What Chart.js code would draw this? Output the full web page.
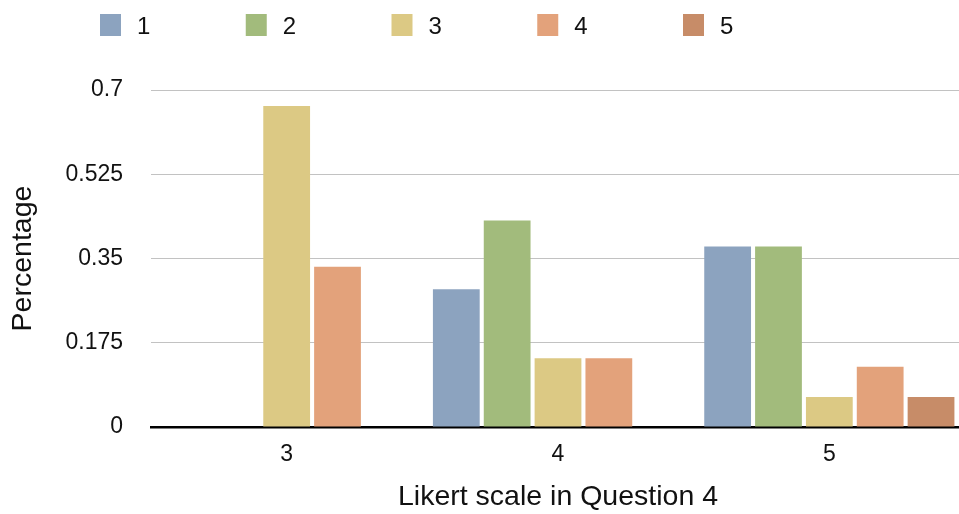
<!DOCTYPE html>
<html>
<head>
<meta charset="utf-8">
<script src="https://cdn.jsdelivr.net/npm/chart.js@4/dist/chart.umd.min.js"></script>
<style>
  html, body { margin: 0; padding: 0; background: #fff; overflow: hidden; }
  #wrap { width: 966px; height: 514px; }
</style>
</head>
<body>
<div id="wrap"><canvas id="myChart" width="966" height="514"></canvas></div>
<script>
// Likert categories on the x axis
var categories = ['3', '4', '5'];

// share of answers for each rating (series 1..5)
var series1 = [0, 0.286, 0.375];
var series2 = [0, 0.429, 0.375];
var series3 = [0.667, 0.143, 0.0625];
var series4 = [0.333, 0.143, 0.125];
var series5 = [0, 0, 0.0625];

var seriesNames = ['1', '2', '3', '4', '5'];
var seriesColors = ['#8ca3bf', '#a2bb7c', '#dcc984', '#e3a27b', '#c78c68'];

var yTicks = [0, 0.175, 0.35, 0.525, 0.7];

var fontFamily = '"Liberation Sans", Arial, Helvetica, sans-serif';

// simple legend drawn on top, items spread out like the original
var topLegend = {
    id: 'topLegend',
    afterDraw: function (chart) {
        var ctx = chart.ctx;
        ctx.save();
        ctx.font = '24px ' + fontFamily;
        ctx.textBaseline = 'middle';
        ctx.textAlign = 'left';
        chart.data.datasets.forEach(function (ds, i) {
            var x = 100 + i * 145.75;
            ctx.fillStyle = ds.backgroundColor;
            ctx.fillRect(x, 14, 21, 22);
            ctx.fillStyle = '#111';
            ctx.fillText(ds.label, x + 37, 27);
        });
        ctx.restore();
    }
};

var allSeries = [series1, series2, series3, series4, series5];

var ctx = document.getElementById('myChart').getContext('2d');
var myChart = new Chart(ctx, {
    type: 'bar',
    data: {
        labels: categories,
        datasets: allSeries.map(function (values, i) {
            return {
                label: seriesNames[i],
                data: values,
                backgroundColor: seriesColors[i],
                borderWidth: 0
            };
        })
    },
    options: {
        responsive: false,
        animation: false,
        devicePixelRatio: 1,
        categoryPercentage: 0.937,
        barPercentage: 0.92,
        layout: {
            padding: { top: 90, right: 1, left: 0, bottom: 0 }
        },
        plugins: {
            legend: { display: false },
            tooltip: { enabled: false }
        },
        scales: {
            x: {
                z: 1,
                grid: { display: false, drawTicks: false },
                border: { display: true, color: '#000', width: 2.5 },
                ticks: {
                    color: '#111',
                    padding: 14,
                    font: { family: fontFamily, size: 23 }
                },
                title: {
                    display: true,
                    text: 'Likert scale in Question 4',
                    color: '#111',
                    font: { family: fontFamily, size: 28.5 },
                    padding: { top: 0, bottom: 0 }
                },
                afterFit: function (scale) { scale.height = 87; }
            },
            y: {
                z: 1,
                min: 0,
                max: 0.7,
                afterBuildTicks: function (scale) {
                    scale.ticks = yTicks.map(function (v) { return { value: v }; });
                },
                grid: { color: 'rgba(0,0,0,0.24)', lineWidth: 1, drawTicks: false },
                border: { display: false },
                ticks: {
                    color: '#111',
                    padding: 28,
                    font: { family: fontFamily, size: 23 },
                    callback: function (v) { return String(v); }
                },
                title: {
                    display: true,
                    text: 'Percentage',
                    color: '#111',
                    font: { family: fontFamily, size: 28.5 },
                    padding: { top: 6, bottom: 0 }
                },
                afterFit: function (scale) { scale.width = 151; }
            }
        }
    },
    plugins: [topLegend]
});
</script>
</body>
</html>
